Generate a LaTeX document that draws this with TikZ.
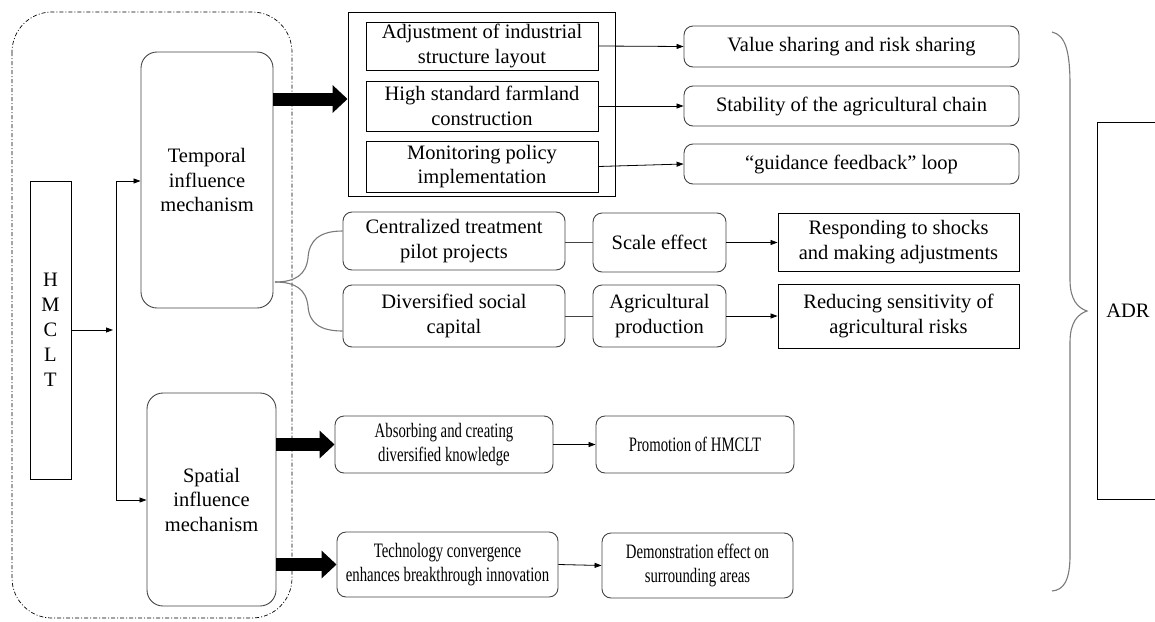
\documentclass[tikz,border=0pt]{standalone}
\usepackage{fontspec}
\setmainfont{Liberation Serif}
\newfontfamily\serifmain[Ligatures=TeX]{Liberation Serif}
\newfontfamily\condfont[FakeStretch=0.72,Ligatures=TeX]{Liberation Serif}
\usetikzlibrary{arrows.meta,calc}
\newcommand{\mainsz}{\serifmain\fontsize{20.5}{24.5}\selectfont}
\newcommand{\condsz}{\condfont\fontsize{20.5}{24}\selectfont}
\definecolor{edgegray}{HTML}{444444}
\definecolor{bracegray}{HTML}{7A7A7A}
\tikzset{
  base/.style={inner sep=0pt, align=center, font=\mainsz, text=black},
  sqbox/.style={base, draw=black, line width=0.9pt},
  rbox/.style={base, draw=edgegray, line width=0.9pt, rounded corners=9pt},
  bigrbox/.style={base, draw=edgegray, line width=0.9pt, rounded corners=16pt},
  condbox/.style={rbox, font=\condsz},
  thin arrow/.style={draw=black, line width=0.8pt, -{Triangle[length=7pt,width=5pt]}},
  thin line/.style={draw=edgegray, line width=0.9pt},
  thick arrow/.style={draw=black, line width=13pt, -{Triangle[length=15pt,width=27pt]}},
  bracestyle/.style={draw=bracegray, line width=1.1pt},
  groupframe/.style={draw=black, line width=0.7pt, dash pattern=on 4pt off 2pt on 1pt off 2pt, rounded corners=40pt}
}
\begin{document}
\begin{tikzpicture}[x=1pt,y=-1pt]
\useasboundingbox (0,0) rectangle (1155,621);
% dashed group frame
\draw[groupframe] (12,12) rectangle (292,618);
% HMCLT
\node[sqbox, minimum width=41pt, minimum height=298pt, font=\serifmain\fontsize{20.5}{25}\selectfont] (hm) at (50.5,330) {H\\M\\C\\L\\T};
% mechanisms
\node[bigrbox, minimum width=132pt, minimum height=256pt] (tmp) at (207,180) {Temporal\\influence\\mechanism};
\node[bigrbox, minimum width=129pt, minimum height=213pt] (spa) at (211.5,499.5) {Spatial\\influence\\mechanism};
% split connector
\coordinate (jc) at (116,330);
\coordinate (jt) at (116,181);
\coordinate (js) at (116,500);
\draw[thin arrow, shorten >=3pt] (hm.east |- jc) -- (jc);
\draw[thin line, draw=black] (jt) -- (js);
\draw[thin arrow] (jt) -- (tmp.west |- jt);
\draw[thin arrow] (js) -- (spa.west |- js);
% temporal group box
\node[sqbox, minimum width=267pt, minimum height=184pt] (grp) at (481.5,104) {};
\node[sqbox, minimum width=232pt, minimum height=48pt] (a1) at (482,46) {Adjustment of industrial\\structure layout};
\node[sqbox, minimum width=232pt, minimum height=50pt] (a2) at (482,106) {High standard farmland\\construction};
\node[sqbox, minimum width=232pt, minimum height=51pt] (a3) at (482,166.5) {Monitoring policy\\implementation};
\node[rbox, minimum width=335pt, minimum height=41pt] (b1) at (851.5,46.5) {Value sharing and risk sharing};
\node[rbox, minimum width=335pt, minimum height=40pt] (b2) at (851.5,106) {Stability of the agricultural chain};
\node[rbox, minimum width=335pt, minimum height=40pt] (b3) at (851.5,164) {“guidance feedback” loop};
\draw[thin arrow] (a1.east) -- (b1.west);
\draw[thin arrow] (a2.east) -- (b2.west);
\draw[thin arrow] (a3.east) -- (b3.west);
\draw[thick arrow] (tmp.east |- 0,99) -- (grp.west |- 0,99);
% middle rows
\node[rbox, minimum width=222pt, minimum height=58pt] (c1) at (454,241) {Centralized treatment\\pilot projects};
\node[rbox, minimum width=222pt, minimum height=62pt] (c2) at (454,316) {Diversified social\\capital};
\node[rbox, minimum width=133pt, minimum height=59pt] (d1) at (659.5,242.5) {Scale effect};
\node[rbox, minimum width=133pt, minimum height=62pt] (d2) at (659.5,316) {Agricultural\\production};
\node[sqbox, minimum width=241pt, minimum height=58pt] (e1) at (898.5,242) {Responding to shocks\\and making adjustments};
\node[sqbox, minimum width=241pt, minimum height=64pt] (e2) at (898.5,316) {Reducing sensitivity of\\agricultural risks};
\draw[thin line] (c1.east |- d1.west) -- (d1.west);
\draw[thin line] (c2.east) -- (d2.west);
\draw[thin arrow] (d1.east) -- (e1.west |- d1.east);
\draw[thin arrow] (d2.east) -- (e2.west);
% small brace
\coordinate (bt) at (275,282);
\draw[bracestyle] ([yshift=10pt]c1.west) .. controls (320,231) and (309,240) .. (308,258) .. controls (306,275) and (295,282) .. (bt);
\draw[bracestyle] ([yshift=-15pt]c2.west) .. controls (320,331) and (309,323) .. (308,306) .. controls (306,289) and (295,282) .. (bt);
% spatial rows
\node[condbox, minimum width=218pt, minimum height=57pt] (f1) at (444,444.5) {Absorbing and creating\\diversified knowledge};
\node[condbox, minimum width=198pt, minimum height=57pt] (g1) at (695,444.5) {Promotion of HMCLT};
\node[condbox, minimum width=221pt, minimum height=65pt] (f2) at (447.5,564.5) {Technology convergence\\enhances breakthrough innovation};
\node[condbox, minimum width=191pt, minimum height=65pt] (g2) at (697.5,565.5) {Demonstration effect on\\surrounding areas};
\draw[thin arrow] (f1.east) -- (g1.west);
\draw[thin arrow] (f2.east) -- (g2.west);
\draw[thick arrow] (spa.east |- f1.west) -- (f1.west);
\draw[thick arrow] (spa.east |- f2.west) -- (f2.west);
% big brace
\coordinate (bb) at (1087,311);
\draw[bracestyle] (1052,32) .. controls (1065,35) and (1070,50) .. (1070,85) -- (1070,280) .. controls (1070,300) and (1078,308) .. (bb) .. controls (1078,314) and (1070,322) .. (1070,342) -- (1070,555) .. controls (1070,580) and (1064,590) .. (1052,591);
% ADR
\node[sqbox, minimum width=62pt, minimum height=377pt] (adr) at (1128,310.5) {ADR};
\end{tikzpicture}
\end{document}
